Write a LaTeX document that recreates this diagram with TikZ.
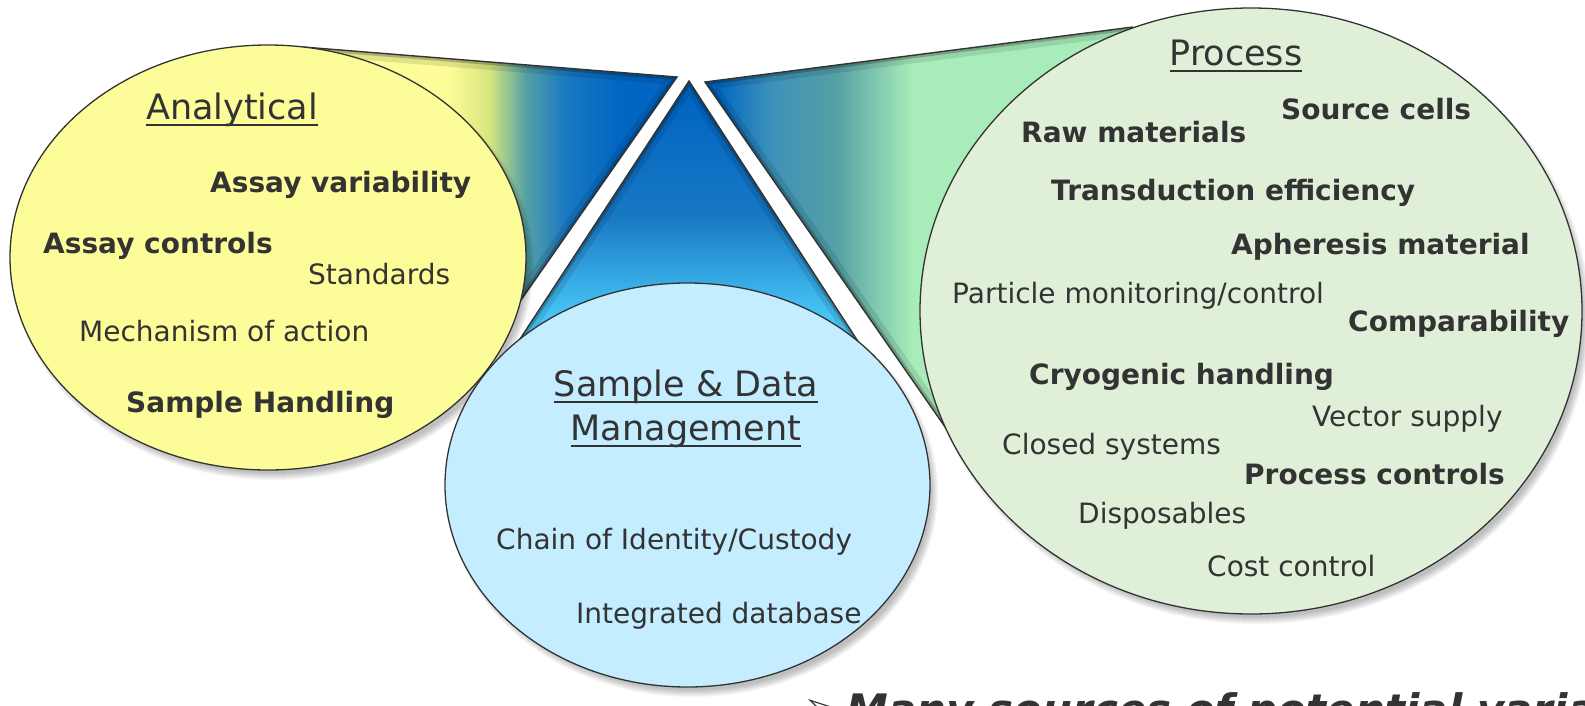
\documentclass[tikz,border=0pt]{standalone}
\usepackage{fontspec}
\setmainfont{DejaVu Sans}
\usetikzlibrary{shapes.geometric}

\definecolor{ink}{RGB}{51,51,51}
\definecolor{yelfill}{RGB}{252,252,152}
\definecolor{bluefill}{RGB}{196,238,255}
\definecolor{greenfill}{RGB}{224,240,216}
\definecolor{deepblue}{RGB}{0,102,194}
\definecolor{midblue}{RGB}{25,120,195}
\definecolor{skyblue}{RGB}{78,210,255}
\definecolor{yg}{RGB}{215,232,125}
\definecolor{tealg}{RGB}{85,160,165}
\definecolor{tealb}{RGB}{60,145,185}
\definecolor{mint}{RGB}{168,236,186}

% gradients of the three spotlight wedges
\pgfdeclarehorizontalshading{yelwedge}{100bp}{color(0bp)=(yelfill); color(47bp)=(yelfill);
  color(52bp)=(yg); color(56.5bp)=(tealg); color(61.5bp)=(midblue); color(68bp)=(deepblue); color(100bp)=(deepblue)}
\pgfdeclareverticalshading{midwedge}{100bp}{color(0bp)=(skyblue); color(38bp)=(skyblue);
  color(55bp)=(midblue); color(72bp)=(deepblue); color(100bp)=(deepblue)}
\pgfdeclarehorizontalshading{grnwedge}{100bp}{color(0bp)=(deepblue); color(26bp)=(deepblue);
  color(31bp)=(tealb); color(37bp)=(tealg); color(44bp)=(mint); color(100bp)=(mint)}

% underlined heading text
\newcommand\ulword[1]{\setbox0=\hbox{#1}\rlap{\rule[-0.2em]{\wd0}{0.06em}}\box0}

\tikzset{
  head/.style={font=\fontsize{35}{40}\selectfont, text=ink, inner sep=0, anchor=base},
  itemb/.style={font=\fontsize{28}{32}\selectfont\bfseries, text=ink, inner sep=0, anchor=base west},
  itemr/.style={font=\fontsize{28}{32}\selectfont, text=ink, inner sep=0, anchor=base west},
  bubble/.style={ellipse, draw=ink, line width=1.3pt, inner sep=0},
  edge line/.style={draw=ink, line width=1.4pt, line join=miter},
}

\newcommand\bevel[2]{% clip path, visible edges
  \begin{scope}
    \clip #1;
    \draw[black, opacity=.10, line width=16pt, line join=miter] #2;
    \draw[black, opacity=.22, line width=6pt, line join=miter] #2;
  \end{scope}}

\newcommand\softshadow[3]{% centre, x radius, y radius
  \foreach \k in {0,...,7}{
    \fill[black, opacity=.035] (#1) ++(5,7) ellipse [x radius={#2-4+\k}, y radius={#3-4+\k}];
  }}

\begin{document}
\begin{tikzpicture}[x=1pt, y=-1pt]
\path[use as bounding box] (0,0) rectangle (1585,705);
\clip (0,0) rectangle (1585,705);

% wedge corner points
\coordinate (ycen) at (268,257.5);
\coordinate (ytop) at (303,47);
\coordinate (ytip) at (677,77);
\coordinate (ylow) at (479,360);
\coordinate (apex) at (689,81);
\coordinate (tl) at (467,420);
\coordinate (tr) at (909,420);
\coordinate (gtip) at (705,82);
\coordinate (gtop) at (1133,27);
\coordinate (gcen) at (1251,311);
\coordinate (glow) at (975,470);

% left wedge
\path[shading=yelwedge] (ytop) -- (ytip) -- (ylow) -- (ycen) -- cycle;
\bevel{(ytop) -- (ytip) -- (ylow) -- (ycen) -- cycle}{(ytop) -- (ytip) -- (ylow)}
\path[edge line] (ytop) -- (ytip) -- (ylow);

% centre wedge
\path[shading=midwedge] (apex) -- (tr) -- (tl) -- cycle;
\bevel{(apex) -- (tr) -- (tl) -- cycle}{(tl) -- (apex) -- (tr)}
\path[edge line] (tl) -- (apex) -- (tr);

% right wedge
\path[shading=grnwedge] (gtip) -- (gtop) -- (gcen) -- (glow) -- cycle;
\bevel{(gtip) -- (gtop) -- (gcen) -- (glow) -- cycle}{(gtop) -- (gtip) -- (glow)}
\path[edge line] (gtop) -- (gtip) -- (glow);

% soft shadows under the bubbles
\softshadow{268,257.5}{258}{212.5}
\softshadow{687.5,485}{242.5}{202}
\softshadow{1251,311}{331}{303}

% the three bubbles
\node[bubble, fill=yelfill, minimum width=516, minimum height=425] (anaE) at (268,257.5) {};
\node[bubble, fill=bluefill, minimum width=485, minimum height=404] (sdmE) at (687.5,485) {};
\node[bubble, fill=greenfill, minimum width=662, minimum height=606] (procE) at (1251,311) {};

% Analytical
\node[head] (anaT) at (232,119) {\ulword{Analytical}};
\node[itemb] (a1) at (210,192) {Assay variability};
\node[itemb] (a2) at (43,253) {Assay controls};
\node[itemr] (a3) at (308,284) {Standards};
\node[itemr] (a4) at (79,341) {Mechanism of action};
\node[itemb] (a5) at (126,412) {Sample Handling};

% Sample & Data Management
\node[head] (sdmT1) at (686,396) {\ulword{Sample \& Data}};
\node[head] (sdmT2) at (686,440) {\ulword{Management}};
\node[itemr] (s1) at (496,549) {Chain of Identity/Custody};
\node[itemr] (s2) at (576,623) {Integrated database};

% Process
\node[head] (procT) at (1236,65) {\ulword{Process}};
\node[itemb] (p1) at (1281,119) {Source cells};
\node[itemb] (p2) at (1021,142) {Raw materials};
\node[itemb] (p3) at (1051,200) {Transduction efficiency};
\node[itemb] (p4) at (1231,254) {Apheresis material};
\node[itemr] (p5) at (952,303) {Particle monitoring/control};
\node[itemb] (p6) at (1348,331) {Comparability};
\node[itemb] (p7) at (1029,384) {Cryogenic handling};
\node[itemr] (p8) at (1312,426) {Vector supply};
\node[itemr] (p9) at (1002,454) {Closed systems};
\node[itemb] (p10) at (1244,484) {Process controls};
\node[itemr] (p11) at (1078,523) {Disposables};
\node[itemr] (p12) at (1207,576) {Cost control};

% closing remark, running off the lower edge
\node[font=\fontsize{42}{48}\selectfont\bfseries\itshape, text=ink, anchor=base west, inner sep=0] (note) at (804,724)
  {\raisebox{7pt}{\normalfont\fontsize{34}{40}\selectfont ➢}\hspace{14pt}Many sources of potential variability};
\end{tikzpicture}
\end{document}
